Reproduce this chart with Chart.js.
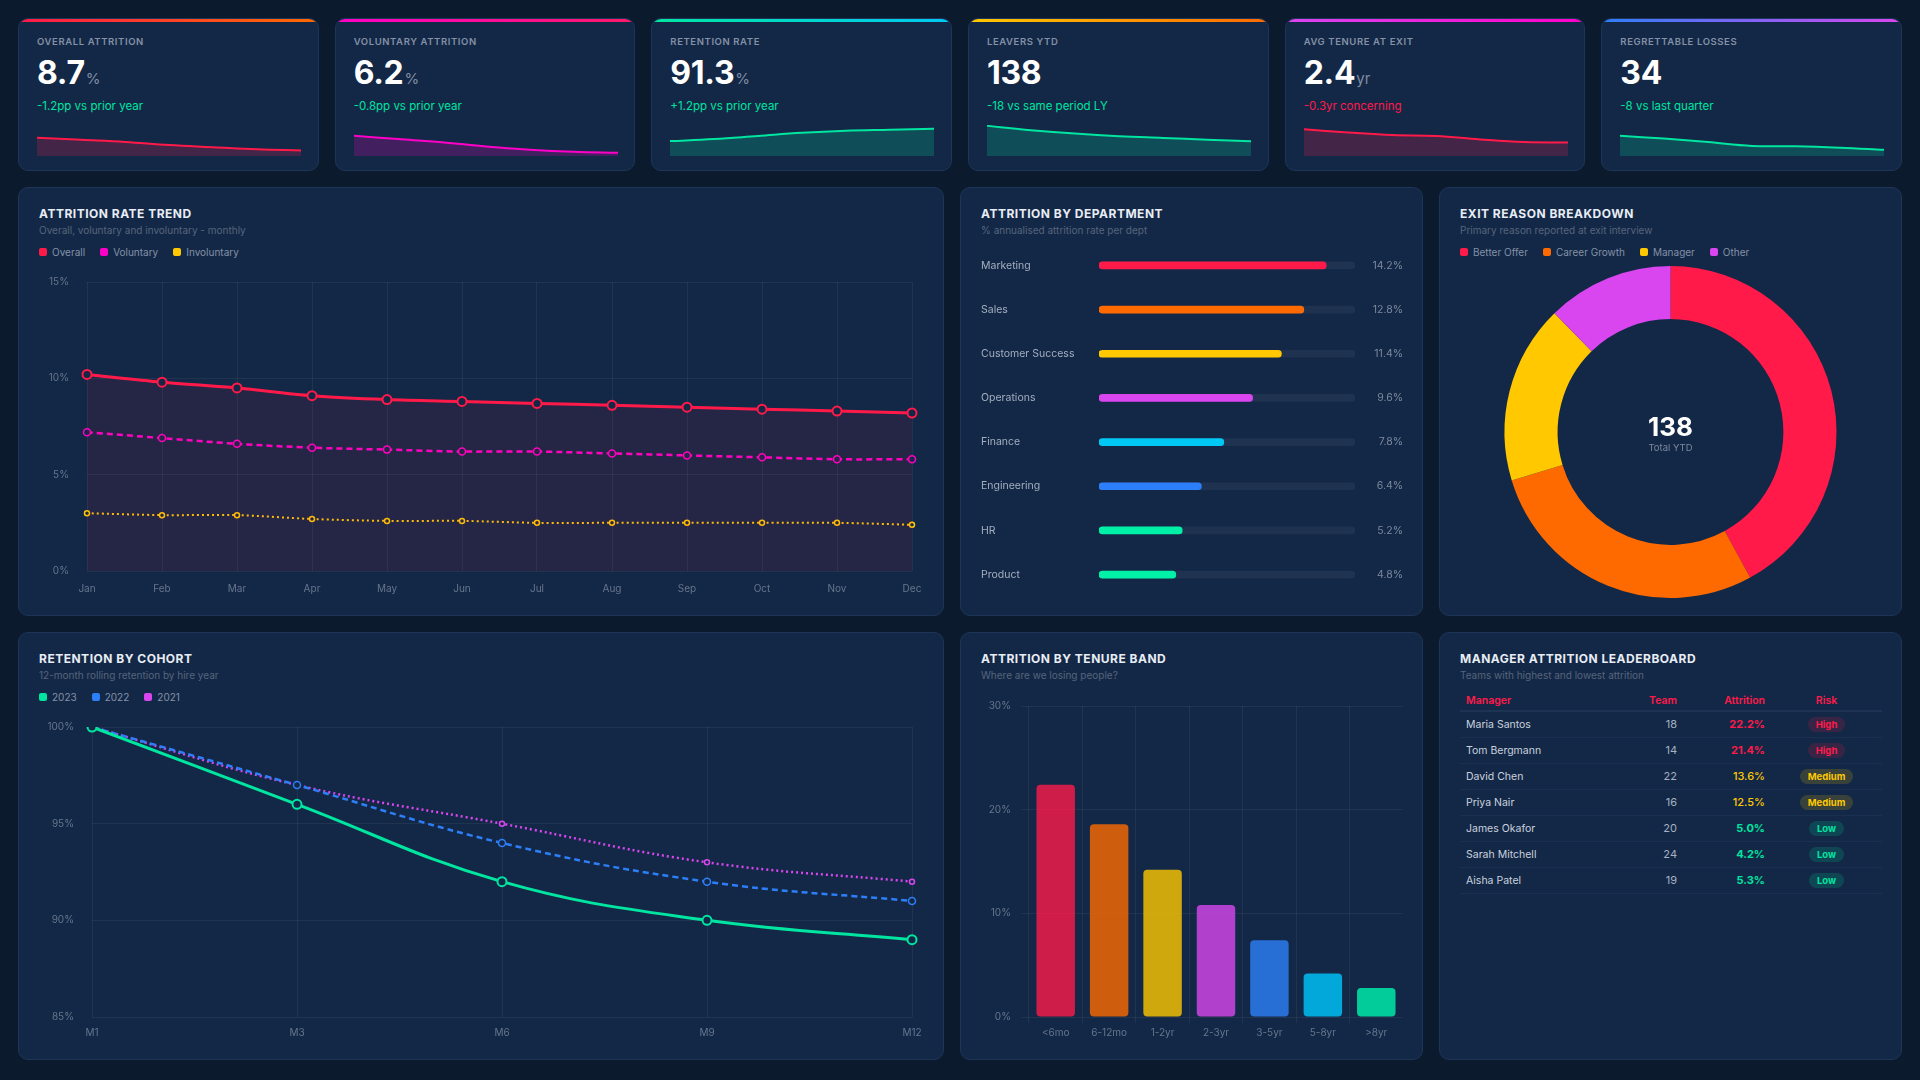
<!DOCTYPE html>
<html lang="en">
<head>
<meta charset="utf-8">
<title>Attrition Dashboard</title>
<script src="https://cdn.jsdelivr.net/npm/chart.js@4.4.1/dist/chart.umd.min.js"></script>
<style>
*{box-sizing:border-box;margin:0;padding:0}
html,body{width:1920px;height:1080px;overflow:hidden;background:#0c1a2d;font-family:Inter,"Noto Sans",sans-serif;color:#e8edf5}
.kpis{position:absolute;left:18px;top:18px;width:1884px;height:153px;display:grid;grid-template-columns:repeat(6,1fr);gap:16px}
.card{position:relative;background:#132846;border:1px solid #1d3558;border-radius:10px;overflow:hidden}
.kpi .bar{position:absolute;left:0;right:0;top:0;height:3px}
.kpi .t{position:absolute;left:18px;top:16px;font-size:9.5px;line-height:14px;font-weight:600;letter-spacing:.6px;color:#8491a7;text-transform:uppercase;white-space:nowrap}
.kpi .v{position:absolute;left:18px;top:36px;height:36px;display:flex;align-items:baseline;white-space:nowrap}
.kpi .v b{font-size:32px;line-height:36px;font-weight:700;color:#fff;letter-spacing:-0.3px}
.kpi .v span{font-size:15px;color:#7f8ca3;margin-left:1px}
.kpi .d{position:absolute;left:18px;top:80px;font-size:11.5px;line-height:14px;white-space:nowrap}
.kpi canvas{position:absolute;left:18px;top:106px}
.panel{position:absolute;background:#132846;border:1px solid #1d3558;border-radius:10px;overflow:hidden}
.ptitle{position:absolute;left:20px;top:18px;font-size:12px;line-height:16px;font-weight:700;letter-spacing:.5px;color:#e8edf5;text-transform:uppercase;white-space:nowrap}
.psub{position:absolute;left:20px;top:35px;font-size:10px;line-height:14px;color:#56657d;white-space:nowrap}
.legend{position:absolute;left:20px;top:57px;height:14px;display:flex;align-items:center;font-size:10px;color:#8391a8;white-space:nowrap}
.legend span{display:flex;align-items:center;margin-right:15px;line-height:14px}
.legend i{display:inline-block;width:8px;height:8px;border-radius:2px;margin-right:5px}
.panel canvas{position:absolute}
.center{position:absolute;left:20px;width:421px;text-align:center}
.center .n{position:absolute;left:0;right:0;top:223px;font-size:26px;line-height:32px;font-weight:700;color:#fff}
.center .l{position:absolute;left:0;right:0;top:253px;font-size:9.5px;line-height:14px;color:#7b889e}
table{position:absolute;left:20px;top:58px;width:422px;border-collapse:collapse;font-size:10.5px;table-layout:fixed}
th{height:20px;font-weight:600;color:#ff1a4a;border-bottom:2px solid #1c3354;padding:0 6px;text-align:left}
td{height:26px;border-bottom:1px solid #1a3050;padding:0 6px;color:#c9d1df}
.r{text-align:right}.c{text-align:center}
td.team{color:#a7b1c2;font-size:11px}
td.att{font-size:11px}
.pill{display:inline-block;padding:2px 8px;border-radius:8px;font-size:9.5px;line-height:11px;font-weight:700}
</style>
</head>
<body>
<div class="kpis" id="kpis"></div>

<div class="panel" style="left:18px;top:187px;width:926px;height:429px">
  <div class="ptitle">Attrition Rate Trend</div>
  <div class="psub">Overall, voluntary and involuntary - monthly</div>
  <div class="legend" id="lgTrend"></div>
  <canvas id="cTrend" width="885" height="329" style="left:20px;top:86px"></canvas>
</div>
<div class="panel" style="left:960px;top:187px;width:463px;height:429px">
  <div class="ptitle">Attrition by Department</div>
  <div class="psub">% annualised attrition rate per dept</div>
  <canvas id="cDept" width="422" height="366" style="left:20px;top:49px"></canvas>
</div>
<div class="panel" style="left:1439px;top:187px;width:463px;height:429px">
  <div class="ptitle">Exit Reason Breakdown</div>
  <div class="psub">Primary reason reported at exit interview</div>
  <div class="legend" id="lgExit"></div>
  <canvas id="cExit" width="421" height="340" style="left:20px;top:74px"></canvas>
  <div class="center"><div class="n" id="exitTotal"></div><div class="l">Total YTD</div></div>
</div>
<div class="panel" style="left:18px;top:632px;width:926px;height:428px">
  <div class="ptitle">Retention by Cohort</div>
  <div class="psub">12-month rolling retention by hire year</div>
  <div class="legend" id="lgCohort"></div>
  <canvas id="cCohort" width="885" height="328" style="left:20px;top:86px"></canvas>
</div>
<div class="panel" style="left:960px;top:632px;width:463px;height:428px">
  <div class="ptitle">Attrition by Tenure Band</div>
  <div class="psub">Where are we losing people?</div>
  <canvas id="cTenure" width="422" height="357" style="left:20px;top:57px"></canvas>
</div>
<div class="panel" style="left:1439px;top:632px;width:463px;height:428px">
  <div class="ptitle">Manager Attrition Leaderboard</div>
  <div class="psub">Teams with highest and lowest attrition</div>
  <table id="mgrTable">
    <colgroup><col style="width:160px"><col style="width:63px"><col style="width:88px"><col style="width:111px"></colgroup>
    <thead><tr><th>Manager</th><th class="r">Team</th><th class="r">Attrition</th><th class="c">Risk</th></tr></thead>
    <tbody></tbody>
  </table>
</div>

<script>
// ---------- DATA ----------
const kpiTitles = ['Overall Attrition','Voluntary Attrition','Retention Rate','Leavers YTD','Avg Tenure at Exit','Regrettable Losses'];
const kpiValues = ['8.7','6.2','91.3','138','2.4','34'];
const kpiUnits = ['%','%','%','','yr',''];
const kpiDeltas = ['-1.2pp vs prior year','-0.8pp vs prior year','+1.2pp vs prior year','-18 vs same period LY','-0.3yr concerning','-8 vs last quarter'];
const kpiDeltaGood = [true,true,true,true,false,true];

const sparkOverall = [9.9,9.7,9.5,9.2,9.0,8.8,8.7];
const sparkVoluntary = [7.0,6.85,6.7,6.5,6.35,6.25,6.2];
const sparkRetention = [90.1,90.3,90.6,90.9,91.1,91.2,91.3];
const sparkLeavers = [17.5,15,13,11.5,10.5,9.5,8.5];
const sparkTenure = [2.7,2.63,2.57,2.55,2.47,2.41,2.4];
const sparkRegrettable = [42,40.4,38.4,36.2,36,35.2,34];

const months = ['Jan','Feb','Mar','Apr','May','Jun','Jul','Aug','Sep','Oct','Nov','Dec'];
const overall = [10.2,9.8,9.5,9.1,8.9,8.8,8.7,8.6,8.5,8.4,8.3,8.2];
const voluntary = [7.2,6.9,6.6,6.4,6.3,6.2,6.2,6.1,6.0,5.9,5.8,5.8];
const involuntary = [3.0,2.9,2.9,2.7,2.6,2.6,2.5,2.5,2.5,2.5,2.5,2.4];
const trendTicks = [0,5,10,15];

const departments = ['Marketing','Sales','Customer Success','Operations','Finance','Engineering','HR','Product'];
const deptRates = [14.2,12.8,11.4,9.6,7.8,6.4,5.2,4.8];
const deptScaleMax = 16;

const exitReasons = ['Better Offer','Career Growth','Manager','Other'];
const exitCounts = [58,39,24,17];

const cohortPoints = ['M1','M3','M6','M9','M12'];
const cohort2023 = [100,96,92,90,89];
const cohort2022 = [100,97,94,92,91];
const cohort2021 = [100,97,95,93,92];
const cohortTicks = [85,90,95,100];

const tenureBands = ['<6mo','6-12mo','1-2yr','2-3yr','3-5yr','5-8yr','>8yr'];
const tenureRates = [22.4,18.6,14.2,10.8,7.4,4.2,2.8];
const tenureTicks = [0,10,20,30];

const managers = ['Maria Santos','Tom Bergmann','David Chen','Priya Nair','James Okafor','Sarah Mitchell','Aisha Patel'];
const teamSizes = [18,14,22,16,20,24,19];
const mgrAttrition = [22.2,21.4,13.6,12.5,5.0,4.2,5.3];
const mgrRisk = ['High','High','Medium','Medium','Low','Low','Low'];

// ---------- STYLE ----------
const RED='#ff1a4a', ORANGE='#ff6a00', YELLOW='#ffc800', PURPLE='#d946ef', MAGENTA='#ff00c8', BLUE='#2d7ff9', CYAN='#00c8f5', GREEN='#00e5a0', MINT='#00f0a8';
const CARD='#132846', GRID='rgba(255,255,255,0.06)', TICK='#66758d';
function rgba(hex,a){const n=parseInt(hex.slice(1),16);return `rgba(${n>>16&255},${n>>8&255},${n&255},${a})`;}

Chart.defaults.font.family = 'Inter, "Noto Sans", sans-serif';
Chart.defaults.font.size = 10;
Chart.defaults.color = TICK;
Chart.defaults.animation = false;
Chart.defaults.responsive = false;
Chart.defaults.plugins.legend.display = false;
Chart.defaults.plugins.tooltip.enabled = false;

// ---------- KPI CARDS ----------
const sparkData = [sparkOverall,sparkVoluntary,sparkRetention,sparkLeavers,sparkTenure,sparkRegrettable];
const kpiStyle = [
  {grad:[RED,ORANGE], line:RED, yMin:8.17, yMax:11.1},
  {grad:[MAGENTA,'#ff1a6a'], line:MAGENTA, yMin:6.05, yMax:7.51},
  {grad:[GREEN,CYAN], line:GREEN, yMin:88.66, yMax:91.66},
  {grad:[YELLOW,ORANGE], line:GREEN, yMin:0, yMax:18},
  {grad:[PURPLE,MAGENTA], line:RED, yMin:2.09, yMax:2.80},
  {grad:[BLUE,PURPLE], line:GREEN, yMin:30.4, yMax:48.2}
];
const kpiWrap = document.getElementById('kpis');
kpiTitles.forEach((t,i)=>{
  const c=document.createElement('div'); c.className='card kpi';
  c.innerHTML = `<div class="bar" style="background:linear-gradient(90deg,${kpiStyle[i].grad[0]},${kpiStyle[i].grad[1]})"></div>
    <div class="t">${t}</div>
    <div class="v"><b>${kpiValues[i]}</b>${kpiUnits[i]?`<span>${kpiUnits[i]}</span>`:''}</div>
    <div class="d" style="color:${kpiDeltaGood[i]?GREEN:RED}">${kpiDeltas[i]}</div>
    <canvas width="264" height="31"></canvas>`;
  kpiWrap.appendChild(c);
  const s=kpiStyle[i];
  new Chart(c.querySelector('canvas'),{type:'line',
    data:{labels:sparkData[i].map((_,k)=>k),datasets:[{data:sparkData[i],borderColor:s.line,backgroundColor:rgba(s.line,0.2),fill:'start',borderWidth:2,pointRadius:0,tension:0.4}]},
    options:{layout:{padding:0},scales:{x:{display:false},y:{display:false,min:s.yMin,max:s.yMax}}}});
});

// ---------- LEGENDS ----------
function legend(id,names,colors){
  document.getElementById(id).innerHTML = names.map((n,i)=>`<span><i style="background:${colors[i]}"></i>${n}</span>`).join('');
}
legend('lgTrend',['Overall','Voluntary','Involuntary'],[RED,MAGENTA,YELLOW]);
legend('lgExit',exitReasons,[RED,ORANGE,YELLOW,PURPLE]);
legend('lgCohort',['2023','2022','2021'],[GREEN,BLUE,PURPLE]);

// ---------- TREND ----------
const pctTick = v => v + '%';
const lineX = h => ({grid:{color:GRID,drawTicks:true,tickLength:h-20,tickColor:'transparent'},border:{display:false},ticks:{padding:0},afterFit:s=>{s.height=h;}});
new Chart(document.getElementById('cTrend'),{type:'line',
  data:{labels:months,datasets:[
    {label:'Overall',data:overall,borderColor:RED,backgroundColor:rgba(RED,0.08),fill:'origin',borderWidth:3,pointRadius:4.5,pointBorderWidth:2,pointBackgroundColor:CARD,pointBorderColor:RED,tension:0.3},
    {label:'Voluntary',data:voluntary,borderColor:MAGENTA,borderDash:[6,4],borderWidth:2.5,pointRadius:3.5,pointBorderWidth:1.5,pointBackgroundColor:CARD,pointBorderColor:MAGENTA,tension:0.3,fill:false},
    {label:'Involuntary',data:involuntary,borderColor:YELLOW,borderDash:[2,3],borderWidth:2,pointRadius:2.5,pointBorderWidth:1.5,pointBackgroundColor:CARD,pointBorderColor:YELLOW,tension:0.3,fill:false}
  ]},
  options:{layout:{padding:{top:8,right:12,left:0,bottom:0}},
    scales:{
      x:lineX(32),
      y:{min:trendTicks[0],max:trendTicks[trendTicks.length-1],grid:{color:GRID,drawTicks:true,tickLength:18,tickColor:'transparent'},border:{display:false},
         afterBuildTicks:s=>{s.ticks=trendTicks.map(v=>({value:v}));},
         ticks:{padding:0,callback:pctTick},afterFit:s=>{s.width=48;}}
    }}});

// ---------- DEPARTMENT ----------
const deptColors=[RED,ORANGE,YELLOW,PURPLE,CYAN,BLUE,MINT,MINT];
new Chart(document.getElementById('cDept'),{type:'bar',
  data:{labels:departments,datasets:[
    {data:deptRates,backgroundColor:deptColors,barThickness:7,borderRadius:4,borderSkipped:false,grouped:false},
    {data:departments.map(()=>deptScaleMax),backgroundColor:'rgba(255,255,255,0.055)',barThickness:7,borderRadius:4,borderSkipped:false,grouped:false}
  ]},
  options:{indexAxis:'y',layout:{padding:0},
    scales:{
      x:{display:false,min:0,max:deptScaleMax},
      y:{position:'left',grid:{display:false},border:{display:false},ticks:{crossAlign:'far',color:'#a3aec0',font:{size:10.5},padding:0},afterFit:s=>{s.width=118;}},
      y2:{type:'category',labels:deptRates.map(v=>v.toFixed(1)+'%'),offset:true,position:'right',grid:{display:false},border:{display:false},ticks:{crossAlign:'far',color:'#7b889e',font:{size:10.5},padding:0},afterFit:s=>{s.width=48;}}
    }}});

// ---------- EXIT REASONS ----------
document.getElementById('exitTotal').textContent = exitCounts.reduce((a,b)=>a+b,0);
new Chart(document.getElementById('cExit'),{type:'doughnut',
  data:{labels:exitReasons,datasets:[{data:exitCounts,backgroundColor:[RED,ORANGE,YELLOW,PURPLE],borderWidth:0}]},
  options:{cutout:'68%',layout:{padding:4}}});

// ---------- COHORT ----------
new Chart(document.getElementById('cCohort'),{type:'line',
  data:{labels:cohortPoints,datasets:[
    {label:'2023',data:cohort2023,borderColor:GREEN,borderWidth:3,pointRadius:4.5,pointBorderWidth:2,pointBackgroundColor:CARD,pointBorderColor:GREEN,tension:0.4},
    {label:'2022',data:cohort2022,borderColor:BLUE,borderDash:[6,4],borderWidth:2.5,pointRadius:3.5,pointBorderWidth:1.5,pointBackgroundColor:CARD,pointBorderColor:BLUE,tension:0.4},
    {label:'2021',data:cohort2021,borderColor:PURPLE,borderDash:[2,3],borderWidth:2.5,pointRadius:2.5,pointBorderWidth:1.5,pointBackgroundColor:CARD,pointBorderColor:PURPLE,tension:0.4}
  ]},
  options:{layout:{padding:{top:8,right:12,left:0,bottom:0}},
    scales:{
      x:lineX(30),
      y:{min:cohortTicks[0],max:cohortTicks[cohortTicks.length-1],grid:{color:GRID,drawTicks:true,tickLength:18,tickColor:'transparent'},border:{display:false},
         afterBuildTicks:s=>{s.ticks=cohortTicks.map(v=>({value:v}));},
         ticks:{padding:0,callback:pctTick},afterFit:s=>{s.width=53;}}
    }}});

// ---------- TENURE ----------
const tenureColors=[RED,ORANGE,YELLOW,PURPLE,BLUE,'#00c8ff','#00f5b0'];
new Chart(document.getElementById('cTenure'),{type:'bar',
  data:{labels:tenureBands,datasets:[{data:tenureRates,backgroundColor:tenureColors.map(c=>rgba(c,0.8)),borderRadius:4,borderSkipped:false}]},
  options:{layout:{padding:0},
    scales:{
      x:{grid:{color:GRID,tickLength:6},border:{display:false},ticks:{padding:4,font:{size:10}},afterFit:s=>{s.height=30;}},
      y:{min:tenureTicks[0],max:tenureTicks[tenureTicks.length-1],grid:{color:GRID,tickLength:8},border:{display:false},
         afterBuildTicks:s=>{s.ticks=tenureTicks.map(v=>({value:v}));},
         ticks:{padding:10,callback:pctTick},afterFit:s=>{s.width=48;}}
    }}});

// ---------- MANAGER TABLE ----------
const riskStyle={High:[RED,'rgba(255,26,74,0.16)',700],Medium:[YELLOW,'rgba(255,200,0,0.16)',500],Low:[GREEN,'rgba(0,229,160,0.16)',700]};
document.querySelector('#mgrTable tbody').innerHTML = managers.map((m,i)=>{
  const [col,bg,w]=riskStyle[mgrRisk[i]];
  return `<tr><td>${m}</td><td class="r team">${teamSizes[i]}</td><td class="r att" style="color:${col};font-weight:${w}">${mgrAttrition[i].toFixed(1)}%</td><td class="c"><span class="pill" style="color:${col};background:${bg}">${mgrRisk[i]}</span></td></tr>`;
}).join('');
</script>
</body>
</html>
